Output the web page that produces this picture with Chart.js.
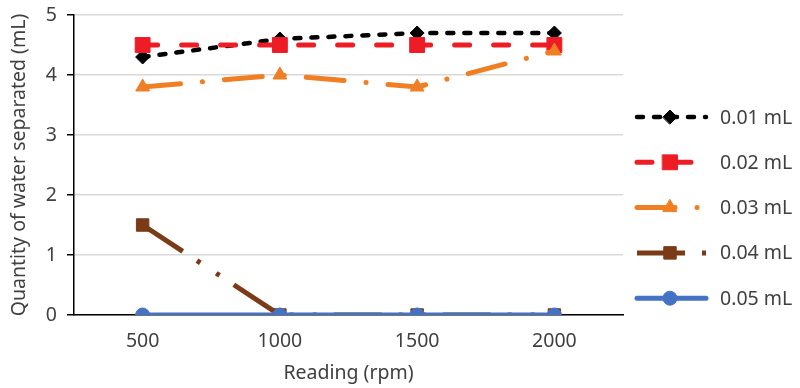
<!DOCTYPE html>
<html>
<head>
<meta charset="utf-8">
<script src="https://cdn.jsdelivr.net/npm/chart.js@4/dist/chart.umd.min.js"></script>
<style>
  html, body { margin: 0; padding: 0; background: #fff; }
  #wrap { width: 800px; height: 388px; position: relative; }
</style>
</head>
<body>
<div id="wrap"><canvas id="waterChart"></canvas></div>
<script>
// ---- data ----
const readings = ["500", "1000", "1500", "2000"];
const seriesNames = ["0.01 mL", "0.02 mL", "0.03 mL", "0.04 mL", "0.05 mL"];
const s001 = [4.3, 4.6, 4.7, 4.7];
const s002 = [4.5, 4.5, 4.5, 4.5];
const s003 = [3.8, 4.0, 3.8, 4.4];
const s004 = [1.5, 0, 0, 0];
const s005 = [0, 0, 0, 0];
const yTicks = [0, 1, 2, 3, 4, 5];

const FONT = "'Noto Sans', sans-serif";
const TEXT = "#404040";
const FSIZE = 19.5;

// line look per series
const styles = [
  { color: "#000000", dash: [6, 11],                 cap: "round", width: 4.5, point: "rectRot",  r: 7 },
  { color: "#EE1C25", dash: [15, 24],                cap: "round", width: 5,   point: "rect",     r: 10.5 },
  { color: "#F07F24", dash: [38, 22, 0.1, 22],       cap: "round", width: 5,   point: "triangle", r: 8 },
  { color: "#7B3B16", dash: [48, 17, 4, 19, 4, 17],  cap: "butt",  width: 5,   point: "rect",     r: 8.8 },
  { color: "#4472C4", dash: [],                      cap: "round", width: 5,   point: "circle",   r: 7 }
];
const values = [s001, s002, s003, s004, s005];

const datasets = values.map((v, i) => ({
  label: seriesNames[i],
  data: v,
  borderColor: styles[i].color,
  backgroundColor: styles[i].color,
  borderWidth: styles[i].width,
  borderDash: styles[i].dash,
  borderCapStyle: styles[i].cap,
  pointStyle: styles[i].point,
  pointRadius: styles[i].r,
  pointHoverRadius: styles[i].r,
  pointBorderWidth: 1,
  tension: 0,
  order: values.length - i // later series on top, like the original
}));

// custom legend: dashed sample with marker in the middle
const sideLegend = {
  id: "sideLegend",
  afterDraw(chart) {
    const ctx = chart.ctx;
    const x0 = 637, x1 = 706, xm = 670, xt = 720;
    ctx.save();
    styles.forEach((st, i) => {
      const y = 117 + i * 45.3;
      ctx.beginPath();
      ctx.strokeStyle = st.color;
      ctx.lineWidth = st.width;
      ctx.lineCap = st.cap;
      ctx.setLineDash(st.dash);
      ctx.moveTo(x0, y);
      ctx.lineTo(x1, y);
      ctx.stroke();
      ctx.setLineDash([]);
      ctx.fillStyle = st.color;
      ctx.strokeStyle = st.color;
      ctx.lineWidth = 1;
      Chart.helpers.drawPoint(ctx, { pointStyle: st.point, radius: st.r, rotation: 0, borderWidth: 1 }, xm, y);
      ctx.fillStyle = TEXT;
      ctx.font = FSIZE + "px " + FONT;
      ctx.textAlign = "left";
      ctx.textBaseline = "middle";
      ctx.fillText(seriesNames[i], xt, y + 1);
    });
    ctx.restore();
  }
};

const ctx = document.getElementById("waterChart").getContext("2d");
new Chart(ctx, {
  type: "line",
  data: { labels: readings, datasets: datasets },
  plugins: [sideLegend],
  options: {
    responsive: true,
    maintainAspectRatio: false,
    animation: false,
    layout: { padding: { left: 0, top: 15, right: 177, bottom: 0 } },
    plugins: {
      legend: { display: false },
      tooltip: { enabled: false }
    },
    scales: {
      x: {
        offset: true,
        grid: { display: false, drawTicks: false },
        border: { color: "#000000", width: 1.5 },
        ticks: { color: TEXT, font: { family: FONT, size: FSIZE }, padding: 15 },
        title: {
          display: true,
          text: "Reading (rpm)",
          color: TEXT,
          font: { family: FONT, size: FSIZE },
          padding: { top: 0, bottom: 3 }
        },
        afterFit(scale) { scale.height = 73; scale.paddingLeft = 0; scale.paddingRight = 0; }
      },
      y: {
        min: 0,
        max: 5,
        afterBuildTicks(scale) { scale.ticks = yTicks.map(v => ({ value: v })); },
        grid: { color: "#d9d9d9", lineWidth: 1.5, tickLength: 7, tickColor: "#000000" },
        border: { color: "#000000", width: 1.5 },
        ticks: { color: TEXT, font: { family: FONT, size: FSIZE }, padding: 10 },
        title: {
          display: true,
          text: "Quantity of water separated (mL)",
          color: TEXT,
          font: { family: FONT, size: FSIZE },
          padding: { top: 8, bottom: 0 }
        },
        afterFit(scale) { scale.width = 74; scale.paddingTop = 0; scale.paddingBottom = 0; }
      }
    }
  }
});
</script>
</body>
</html>
